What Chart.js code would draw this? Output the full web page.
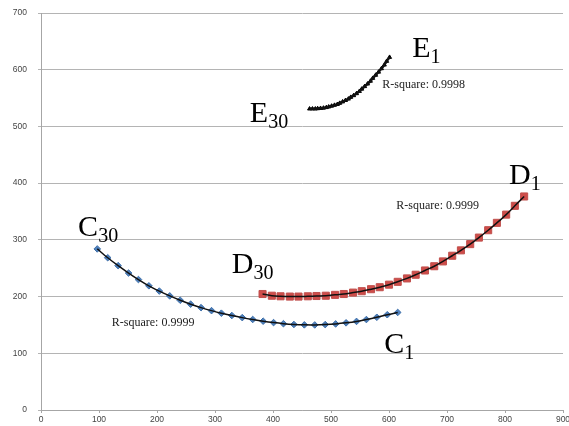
<!DOCTYPE html>
<html>
<head>
<meta charset="utf-8">
<title>Fitted curves C, D, E</title>
<script src="https://cdn.jsdelivr.net/npm/chart.js@4"></script>
<style>
  html, body { margin: 0; padding: 0; background: #fff; }
  #wrap { width: 569px; height: 426px; }
</style>
</head>
<body>
<div id="wrap"><canvas id="chart" width="569" height="426"></canvas></div>
<script>
// Series C (blue diamonds), points 1..30
const cX = [615, 597, 579, 561, 544, 526, 508, 490, 472, 454, 436, 418, 401, 383, 365, 347, 329, 311, 294, 276, 258, 240, 222, 204, 186, 168, 151, 133, 115, 97];
const cY = [172, 168, 163.5, 159.5, 156.2, 153.7, 151.8, 150.6, 150, 150.1, 150.8, 152.2, 154.1, 156.6, 159.6, 162.9, 166.6, 170.7, 175.2, 180.5, 186.6, 193.5, 201.2, 209.7, 219, 230, 241.5, 254.5, 268.5, 284];

// Series D (red squares), points 1..30
const dX = [833, 817, 802, 786, 771, 755, 740, 724, 709, 693, 678, 662, 646, 631, 615, 600, 584, 569, 553, 538, 522, 507, 491, 475, 460, 444, 429, 413, 398, 382];
const dY = [376.5, 360, 344.5, 330, 317, 304, 292.5, 281.5, 272, 262, 253.5, 246, 238.5, 232, 226, 221, 216.5, 213, 209.5, 207, 204.5, 203, 201.5, 201, 200.5, 200, 200, 200.5, 201.5, 204.5];

// Series E (black), points 1..30
const eX = [601, 596, 592, 587, 582, 577, 572, 568, 563, 558, 553, 549, 544, 539, 534, 530, 525, 520, 515, 511, 506, 501, 496, 492, 487, 482, 477, 473, 468, 463];
const eY = [622, 615, 608.5, 602, 596, 590.5, 585, 580, 575, 570.5, 566, 562, 558, 554.5, 551.5, 548.5, 546, 543.5, 541, 539, 537.5, 536, 534.5, 533.5, 532.5, 532, 531.5, 531, 531, 531];

// Axis ticks
const xTicks = [0, 100, 200, 300, 400, 500, 600, 700, 800, 900];
const yTicks = [0, 100, 200, 300, 400, 500, 600, 700];

// End point labels (anchored in data units) and fit annotations
const endLabels = [
  { main: 'C', sub: '30', x: 64, y: 307 },
  { main: 'D', sub: '30', x: 329, y: 241.5 },
  { main: 'C', sub: '1', x: 592, y: 100.5 },
  { main: 'D', sub: '1', x: 807, y: 398.5 },
  { main: 'E', sub: '1', x: 640, y: 622.5 },
  { main: 'E', sub: '30', x: 360, y: 508 }
];
const fitLabels = [
  { text: 'R-square: 0.9999', x: 122, y: 153 },
  { text: 'R-square: 0.9999', x: 612.6, y: 360 },
  { text: 'R-square: 0.9998', x: 588.5, y: 573 }
];

function toPoints(xs, ys) {
  return xs.map((x, i) => ({ x: x, y: ys[i] }));
}

// Draws the C/D/E end labels with subscripts and the R-square notes
const labelPlugin = {
  id: 'curveLabels',
  afterDatasetsDraw(chart) {
    const ctx = chart.ctx;
    const xs = chart.scales.x;
    const ys = chart.scales.y;
    ctx.save();
    ctx.fillStyle = '#000';
    ctx.textBaseline = 'alphabetic';
    ctx.textAlign = 'left';
    endLabels.forEach(l => {
      const px = xs.getPixelForValue(l.x);
      const py = ys.getPixelForValue(l.y);
      ctx.font = '30px "Liberation Serif"';
      ctx.fillText(l.main, px, py);
      const w = ctx.measureText(l.main).width;
      ctx.font = '20px "Liberation Serif"';
      ctx.fillText(l.sub, px + w, py + 6);
    });
    ctx.font = '12px "Liberation Serif"';
    ctx.fillStyle = '#222';
    ctx.textBaseline = 'middle';
    fitLabels.forEach(l => {
      ctx.fillText(l.text, xs.getPixelForValue(l.x), ys.getPixelForValue(l.y));
    });
    ctx.restore();
  }
};

const markerSet = (pts, style, radius, fill, border) => ({
  data: pts,
  showLine: false,
  pointStyle: style,
  pointRadius: radius,
  pointBackgroundColor: fill,
  pointBorderColor: border,
  pointBorderWidth: 1,
  order: 2
});

const lineSet = (pts, width) => ({
  data: pts,
  showLine: true,
  borderColor: '#111',
  borderWidth: width,
  pointRadius: 0,
  tension: 0.3,
  order: 1
});

const ctx = document.getElementById('chart').getContext('2d');
new Chart(ctx, {
  type: 'scatter',
  data: {
    datasets: [
      markerSet(toPoints(cX, cY), 'rectRot', 3.3, '#4f81bd', '#3d6ea8'),
      markerSet(toPoints(dX, dY), 'rect', 5, '#cf4d4a', '#c0504d'),
      markerSet(toPoints(eX, eY), 'triangle', 2.3, '#000', '#000'),
      lineSet(toPoints(cX, cY), 1.5),
      lineSet(toPoints(dX, dY), 1.5),
      lineSet(toPoints(eX, eY), 2.5)
    ]
  },
  options: {
    responsive: false,
    devicePixelRatio: 1,
    animation: false,
    layout: { padding: { left: 0, top: 13, right: 5, bottom: 0 } },
    plugins: {
      legend: { display: false },
      tooltip: { enabled: false }
    },
    scales: {
      x: {
        type: 'linear',
        min: 0,
        max: 900,
        afterBuildTicks: scale => { scale.ticks = xTicks.map(v => ({ value: v })); },
        afterFit: scale => {
          scale.height = 16;
          scale.paddingLeft = 0;
          scale.paddingRight = 0;
        },
        grid: { drawOnChartArea: false, drawTicks: true, tickLength: 3, color: '#a6a6a6' },
        border: { color: '#a6a6a6' },
        ticks: {
          padding: 2,
          maxRotation: 0,
          color: '#444',
          font: { family: '"Liberation Sans"', size: 8.5 }
        }
      },
      y: {
        type: 'linear',
        min: 0,
        max: 700,
        afterBuildTicks: scale => { scale.ticks = yTicks.map(v => ({ value: v })); },
        afterFit: scale => {
          scale.width = 41;
          scale.paddingTop = 0;
          scale.paddingBottom = 0;
        },
        grid: { color: '#b4b4b4', tickLength: 3 },
        border: { color: '#a6a6a6' },
        ticks: {
          padding: 11,
          color: '#444',
          font: { family: '"Liberation Sans"', size: 8.5 }
        }
      }
    }
  },
  plugins: [labelPlugin]
});
</script>
</body>
</html>
